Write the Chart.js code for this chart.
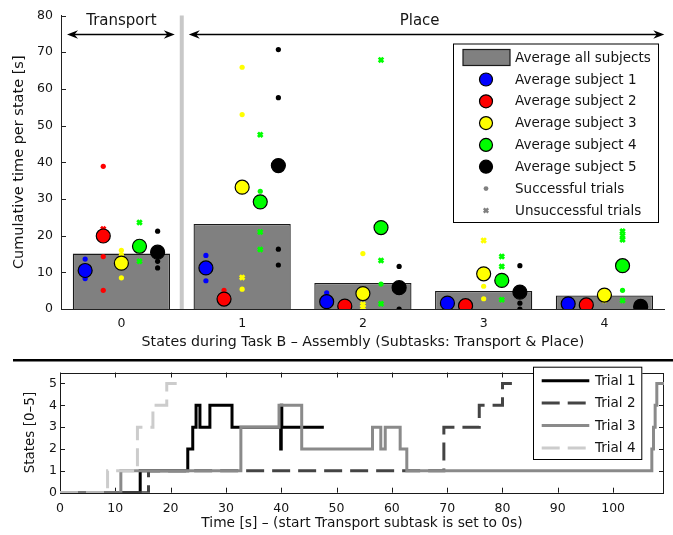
<!DOCTYPE html>
<html><head><meta charset="utf-8">
<script src="https://cdn.jsdelivr.net/npm/chart.js@4"></script>
<style>
html,body{margin:0;padding:0;background:#fff;width:673px;height:535px;overflow:hidden}
canvas{position:absolute;left:0}
#topChart{top:0}
#botChart{top:362px}
</style></head><body>
<canvas id="topChart" width="673" height="362"></canvas>
<canvas id="botChart" width="673" height="173"></canvas>
<script>
// ---------------- DATA (top chart) ----------------
const states = [0, 1, 2, 3, 4];
const stateTickLabels = ['0', '1', '2', '3', '4'];
const avgAllSubjects = [15.1, 23.2, 7.1, 4.9, 3.7];
const subjectLabels = ['Average subject 1', 'Average subject 2', 'Average subject 3', 'Average subject 4', 'Average subject 5'];
const avgSubject1 = [10.5, 11.2, 2.0, 1.6, 1.4];
const avgSubject2 = [19.9, 2.7, 0.8, 0.9, 1.1];
const avgSubject3 = [12.5, 33.2, 4.2, 9.6, 3.8];
const avgSubject4 = [17.1, 29.2, 22.2, 7.8, 11.8];
const avgSubject5 = [15.5, 39.1, 5.8, 4.6, 0.7];
// successful trials per state (one list per state)
const okSubject1 = [[13.6, 8.3], [14.6, 7.7], [4.4], [], []];
const okSubject2 = [[38.9, 14.3, 5.1], [5.1], [], [], []];
const okSubject3 = [[16.0, 14.8, 8.5], [65.9, 53.0, 5.4], [15.1], [6.2, 2.8], []];
const okSubject4 = [[], [32.1], [6.8], [], [5.1]];
const okSubject5 = [[21.2, 13.0, 11.2], [70.7, 57.6, 16.3, 12.0], [11.6, 0.0], [11.8, 1.6, 0.0], []];
// unsuccessful trials per state
const failSubject1 = [[], [], [], [], []];
const failSubject2 = [[21.8], [], [], [], [0.2]];
const failSubject3 = [[], [8.6], [1.2, 0.4], [18.7], [2.4]];
const failSubject4 = [[23.6, 13.0], [47.5, 21.0, 16.2], [67.9, 13.2, 1.4], [14.3, 11.6, 2.5], [21.2, 20.0, 18.9, 2.3]];
const failSubject5 = [[], [], [], [], []];
const yTicksTop = [0, 10, 20, 30, 40, 50, 60, 70, 80];

// ---------------- DATA (bottom chart) ----------------
const trialLabels = ['Trial 1', 'Trial 2', 'Trial 3', 'Trial 4'];
const trial1Time  = [0, 14.5, 23.1, 24.0, 24.6, 25.3, 27.1, 31.1, 39.9, 40.0, 40.1, 47.7];
const trial1State = [0, 1, 2, 3, 4, 3, 4, 3, 2, 4, 3, 3];
const trial2Time  = [0, 16.0, 69.4, 75.8, 80.0, 81.7];
const trial2State = [0, 1, 3, 4, 5, 5];
const trial3Time  = [0, 11.0, 32.7, 39.6, 43.7, 56.5, 58.0, 58.8, 61.5, 62.7, 107.0, 107.3, 107.6, 107.9, 109.2];
const trial3State = [0, 1, 3, 4, 2, 3, 2, 3, 2, 1, 2, 3, 4, 5, 5];
const trial4Time  = [0, 8.6, 14.0, 16.8, 19.3, 21.1];
const trial4State = [0, 1, 3, 4, 5, 5];
const timeTicks  = [0, 10, 20, 30, 40, 50, 60, 70, 80, 90, 100];
const stateTicks = [0, 1, 2, 3, 4, 5];

// ---------------- STYLE ----------------
const FONT = "'DejaVu Sans', Verdana, sans-serif";
const TXT = '#141414';
const subjectColors = ['#0000ff', '#ff0000', '#ffff00', '#00ff00', '#000000'];
const subjectOffset = [-0.3, -0.15, 0, 0.15, 0.3];
const trialColors = ['#000000', '#444444', '#8a8a8a', '#cccccc'];
const trialDash = [[], [18, 8], [], [18, 8]];
Chart.defaults.font.family = FONT;
Chart.defaults.color = TXT;

const avgs = [avgSubject1, avgSubject2, avgSubject3, avgSubject4, avgSubject5];
const oks = [okSubject1, okSubject2, okSubject3, okSubject4, okSubject5];
const fails = [failSubject1, failSubject2, failSubject3, failSubject4, failSubject5];

function trialPoints(list, s) {
  const pts = [];
  list.forEach((vals, c) => vals.forEach(v => pts.push({x: states[c] + subjectOffset[s], y: v})));
  return pts;
}

const topDatasets = [];
topDatasets.push({
  type: 'bar', label: 'Average all subjects', order: 100,
  data: states.map((s, i) => ({x: s, y: avgAllSubjects[i]})),
  backgroundColor: '#808080', borderColor: '#1a1a1a', borderWidth: 1.3,
  categoryPercentage: 1, barPercentage: 0.805
});
for (let s = 0; s < 5; s++) {
  topDatasets.push({
    type: 'scatter', label: 'ok' + s, order: 50 - s,
    data: trialPoints(oks[s], s),
    pointStyle: 'circle', pointRadius: 2.6, pointBorderWidth: 0,
    backgroundColor: subjectColors[s], borderColor: subjectColors[s]
  });
  topDatasets.push({
    type: 'scatter', label: 'fail' + s, order: 40 - s,
    data: trialPoints(fails[s], s),
    pointStyle: 'crossRot', pointRadius: 3.2, pointBorderWidth: 2.8,
    backgroundColor: subjectColors[s], borderColor: subjectColors[s]
  });
}
for (let s = 0; s < 5; s++) {
  topDatasets.push({
    type: 'scatter', label: subjectLabels[s], order: 10 - s,
    data: states.map((c, i) => ({x: c + subjectOffset[s], y: avgs[s][i]})),
    pointStyle: 'circle', pointRadius: 7, pointBorderWidth: 1.2,
    backgroundColor: subjectColors[s], borderColor: '#000000'
  });
}

function drawArrowHead(ctx, tx, ty, dir) {
  ctx.beginPath();
  ctx.moveTo(tx, ty);
  ctx.lineTo(tx - 11 * dir, ty - 4.2);
  ctx.lineTo(tx - 7.5 * dir, ty);
  ctx.lineTo(tx - 11 * dir, ty + 4.2);
  ctx.closePath();
  ctx.fill();
}

const topDecor = {
  id: 'topDecor',
  beforeDatasetsDraw(chart) {
    const {ctx, chartArea: a, scales: {x}} = chart;
    const px = x.getPixelForValue(0.5);
    ctx.save();
    ctx.fillStyle = '#c8c8c8';
    ctx.fillRect(px - 2, a.top, 4, a.bottom - a.top);
    ctx.restore();
  },
  afterDraw(chart) {
    const {ctx, chartArea: a, scales: {x, y}} = chart;
    ctx.save();
    // inward y ticks
    ctx.strokeStyle = '#222'; ctx.lineWidth = 1;
    yTicksTop.forEach(v => {
      const py = Math.round(y.getPixelForValue(v)) + 0.5;
      ctx.beginPath(); ctx.moveTo(a.left, py); ctx.lineTo(a.left + 5, py); ctx.stroke();
    });
    // arrows
    const ay = 34.5;
    ctx.strokeStyle = '#000'; ctx.fillStyle = '#000'; ctx.lineWidth = 1.3;
    const t0 = x.getPixelForValue(-0.5) + 6, t1 = x.getPixelForValue(0.5) - 7;
    const p0 = x.getPixelForValue(0.5) + 7, p1 = x.getPixelForValue(4.5) - 0.5;
    ctx.beginPath(); ctx.moveTo(t0 + 4, ay); ctx.lineTo(t1 - 4, ay); ctx.stroke();
    drawArrowHead(ctx, t0, ay, -1); drawArrowHead(ctx, t1, ay, 1);
    ctx.beginPath(); ctx.moveTo(p0 + 4, ay); ctx.lineTo(p1 - 4, ay); ctx.stroke();
    drawArrowHead(ctx, p0, ay, -1); drawArrowHead(ctx, p1, ay, 1);
    ctx.font = '15px ' + FONT; ctx.fillStyle = TXT;
    ctx.textAlign = 'center'; ctx.textBaseline = 'middle';
    ctx.fillText('Transport', x.getPixelForValue(0), 21);
    ctx.fillText('Place', x.getPixelForValue(2.47), 21);
    // legend
    const L = 453, T = 43.5, R = 659, B = 223;
    ctx.fillStyle = '#fff'; ctx.fillRect(L, T, R - L, B - T);
    ctx.strokeStyle = '#000'; ctx.lineWidth = 1;
    ctx.strokeRect(L + 0.5, T + 0.5, R - L - 1, B - T - 1);
    const rows = [57.7, 79.5, 101.3, 123.1, 144.9, 166.7, 188.6, 210.5];
    const mx = 486, tx = 515;
    ctx.fillStyle = '#808080'; ctx.fillRect(463, 49.5, 47, 16);
    ctx.strokeStyle = '#1a1a1a'; ctx.lineWidth = 1.2; ctx.strokeRect(463, 49.5, 47, 16);
    for (let s = 0; s < 5; s++) {
      ctx.beginPath(); ctx.arc(mx, rows[s + 1], 6.5, 0, Math.PI * 2);
      ctx.fillStyle = subjectColors[s]; ctx.fill();
      ctx.lineWidth = 1.2; ctx.strokeStyle = '#000'; ctx.stroke();
    }
    ctx.beginPath(); ctx.arc(mx, rows[6], 2.4, 0, Math.PI * 2);
    ctx.fillStyle = '#808080'; ctx.fill();
    ctx.strokeStyle = '#808080'; ctx.lineWidth = 2.4;
    ctx.beginPath();
    ctx.moveTo(mx - 2.2, rows[7] - 2.2); ctx.lineTo(mx + 2.2, rows[7] + 2.2);
    ctx.moveTo(mx + 2.2, rows[7] - 2.2); ctx.lineTo(mx - 2.2, rows[7] + 2.2);
    ctx.stroke();
    ctx.font = '13.5px ' + FONT; ctx.fillStyle = TXT;
    ctx.textAlign = 'left'; ctx.textBaseline = 'middle';
    const legTexts = ['Average all subjects'].concat(subjectLabels, ['Successful trials', 'Unsuccessful trials']);
    legTexts.forEach((t, i) => ctx.fillText(t, tx, rows[i] + 0.5));
    // separator line between the two panels
    ctx.fillStyle = '#000';
    ctx.fillRect(13, 359, 660, 2.5);
    ctx.restore();
  }
};

new Chart(document.getElementById('topChart'), {
  type: 'bar',
  data: {datasets: topDatasets},
  options: {
    responsive: false, animation: false, devicePixelRatio: 1,
    layout: {padding: {top: 15, right: 6, left: 0, bottom: 0}},
    plugins: {legend: {display: false}, tooltip: {enabled: false}},
    scales: {
      x: {
        type: 'linear', min: -0.5, max: 4.5, offset: false,
        afterBuildTicks(s) { s.ticks = states.map(v => ({value: v})); },
        ticks: {callback: (v) => stateTickLabels[states.indexOf(v)], padding: 7, font: {size: 12.5}, color: TXT, maxRotation: 0},
        grid: {display: false, drawTicks: false, offset: false},
        border: {display: true, color: '#222', width: 1},
        title: {display: true, text: 'States during Task B – Assembly (Subtasks: Transport & Place)', font: {size: 14.2}, color: TXT, padding: {top: 0, bottom: 11.5}},
        afterFit(s) { s.height = 53; }
      },
      y: {
        min: 0, max: 80,
        afterBuildTicks(s) { s.ticks = yTicksTop.map(v => ({value: v})); },
        ticks: {padding: 8, font: {size: 12.5}, color: TXT},
        grid: {display: false, drawTicks: false},
        border: {display: true, color: '#222', width: 1},
        title: {display: true, text: 'Cumulative time per state [s]', font: {size: 14.5}, color: TXT, padding: {top: 11, bottom: 0}},
        afterFit(s) { s.width = 61; }
      }
    }
  },
  plugins: [topDecor]
});

// ---------------- bottom chart ----------------
const trialTimes = [trial1Time, trial2Time, trial3Time, trial4Time];
const trialStates = [trial1State, trial2State, trial3State, trial4State];
const botDatasets = trialTimes.map((tt, i) => ({
  label: trialLabels[i], order: 4 - i,
  data: tt.map((t, k) => ({x: t, y: trialStates[i][k]})),
  stepped: 'before', borderColor: trialColors[i], borderWidth: 3,
  borderDash: trialDash[i], pointRadius: 0, fill: false, borderCapStyle: 'butt'
}));

const botDecor = {
  id: 'botDecor',
  beforeDatasetsDraw(chart) {
    const {ctx, chartArea: a, scales: {x, y}} = chart;
    ctx.save();
    ctx.strokeStyle = '#1a1a1a'; ctx.lineWidth = 1;
    ctx.strokeRect(Math.round(a.left) + 0.5, Math.round(a.top) + 0.5, Math.round(a.right - a.left) - 1, Math.round(a.bottom - a.top));
    ctx.beginPath();
    timeTicks.forEach(v => {
      const px = Math.round(x.getPixelForValue(v)) + 0.5;
      ctx.moveTo(px, a.top); ctx.lineTo(px, a.top + 5);
      ctx.moveTo(px, a.bottom); ctx.lineTo(px, a.bottom - 5);
    });
    stateTicks.forEach(v => {
      const py = Math.round(y.getPixelForValue(v)) + 0.5;
      ctx.moveTo(a.left, py); ctx.lineTo(a.left + 5, py);
      ctx.moveTo(a.right, py); ctx.lineTo(a.right - 5, py);
    });
    ctx.stroke();
    ctx.restore();
  },
  afterDraw(chart) {
    const {ctx} = chart;
    ctx.save();
    const L = 533, T = 4.7, R = 642.3, B = 98;
    ctx.fillStyle = '#fff'; ctx.fillRect(L, T, R - L, B - T);
    ctx.strokeStyle = '#000'; ctx.lineWidth = 1;
    ctx.strokeRect(L + 0.5, T + 0.5, R - L - 1, B - T - 1);
    const rows = [18.7, 41.1, 63.5, 85.9];
    for (let i = 0; i < 4; i++) {
      ctx.strokeStyle = trialColors[i]; ctx.lineWidth = 3;
      ctx.setLineDash(trialDash[i]);
      ctx.beginPath(); ctx.moveTo(541.7, rows[i]); ctx.lineTo(589.3, rows[i]); ctx.stroke();
    }
    ctx.setLineDash([]);
    ctx.font = '13.5px ' + FONT; ctx.fillStyle = TXT;
    ctx.textAlign = 'left'; ctx.textBaseline = 'middle';
    trialLabels.forEach((t, i) => ctx.fillText(t, 595, rows[i] + 0.5));
    ctx.restore();
  }
};

new Chart(document.getElementById('botChart'), {
  type: 'line',
  data: {datasets: botDatasets},
  options: {
    responsive: false, animation: false, devicePixelRatio: 1,
    layout: {padding: {top: 7.5, right: 9, left: 0, bottom: 0}},
    plugins: {legend: {display: false}, tooltip: {enabled: false}},
    scales: {
      x: {
        type: 'linear', min: 0, max: 109.2,
        afterBuildTicks(s) { s.ticks = timeTicks.map(v => ({value: v})); },
        ticks: {padding: 9, font: {size: 12.5}, color: TXT, maxRotation: 0},
        grid: {display: false, drawTicks: false},
        border: {display: false},
        title: {display: true, text: 'Time [s] – (start Transport subtask is set to 0s)', font: {size: 13.8}, color: TXT, padding: {top: 0, bottom: 3.5}},
        afterFit(s) { s.height = 42.3; }
      },
      y: {
        min: 0, max: 5.5,
        afterBuildTicks(s) { s.ticks = stateTicks.map(v => ({value: v})); },
        ticks: {padding: 3, font: {size: 12.5}, color: TXT},
        grid: {display: false, drawTicks: false},
        border: {display: false},
        title: {display: true, text: 'States [0–5]', font: {size: 13.5}, color: TXT, padding: {top: 22.5, bottom: 0}},
        afterFit(s) { s.width = 60; }
      }
    }
  },
  plugins: [botDecor]
});
</script>
</body></html>
